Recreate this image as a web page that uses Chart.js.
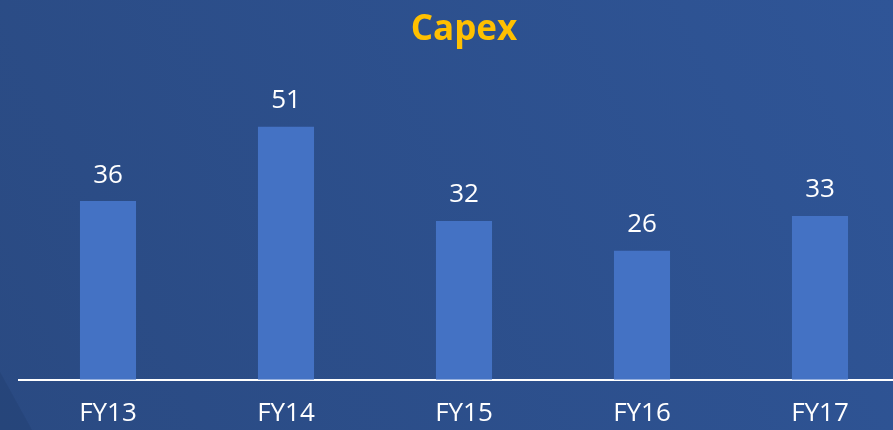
<!DOCTYPE html>
<html>
<head>
<meta charset="utf-8">
<script src="https://cdn.jsdelivr.net/npm/chart.js@4.4.0/dist/chart.umd.min.js"></script>
<style>
html,body{margin:0;padding:0;overflow:hidden;background:#2d5190;}
#wrap{position:relative;width:920px;height:449px;}
</style>
</head>
<body>
<div id="wrap"><canvas id="c" width="920" height="449"></canvas></div>
<script>
const categories = ["FY13", "FY14", "FY15", "FY16", "FY17"];
const capex = [36, 51, 32, 26, 33];
const chartTitle = "Capex";

const bgPlugin = {
  id: 'bg',
  beforeDraw(chart) {
    const ctx = chart.ctx, w = 893, h = 430;
    ctx.save();
    const g = ctx.createLinearGradient(w, 0, 0, h);
    g.addColorStop(0, '#2f5597');
    g.addColorStop(1, '#2a4a82');
    ctx.fillStyle = g;
    ctx.fillRect(0, 0, chart.width, chart.height);
    ctx.fillStyle = 'rgba(20,40,80,0.15)';
    ctx.beginPath();
    ctx.moveTo(0, 372);
    ctx.lineTo(32, 430);
    ctx.lineTo(0, 430);
    ctx.closePath();
    ctx.fill();
    ctx.restore();
  }
};

const valueLabels = {
  id: 'valueLabels',
  afterDatasetsDraw(chart) {
    const ctx = chart.ctx;
    const meta = chart.getDatasetMeta(0);
    ctx.save();
    ctx.fillStyle = '#ffffff';
    ctx.font = '26px "Open Sans"';
    ctx.textAlign = 'center';
    ctx.textBaseline = 'middle';
    meta.data.forEach((bar, i) => {
      ctx.fillText(String(capex[i]), bar.x, bar.y - 26);
    });
    ctx.restore();
  }
};

new Chart(document.getElementById('c'), {
  type: 'bar',
  data: {
    labels: categories,
    datasets: [{
      data: capex,
      backgroundColor: '#4472c4',
      borderWidth: 0,
      barPercentage: 0.315,
      categoryPercentage: 1
    }]
  },
  options: {
    responsive: false,
    animation: false,
    events: [],
    layout: { padding: { left: 19, right: 11, top: 0, bottom: 2 } },
    plugins: {
      legend: { display: false },
      tooltip: { enabled: false },
      title: {
        display: true,
        text: chartTitle,
        color: '#ffc000',
        font: { family: '"Open Sans"', size: 35, weight: 'bold' },
        padding: { top: 9, bottom: 31 }
      }
    },
    scales: {
      x: {
        grid: { display: false, drawTicks: false },
        border: { display: true, color: '#ffffff', width: 2 },
        ticks: { color: '#ffffff', font: { family: '"Open Sans"', size: 26 }, padding: 18 }
      },
      y: {
        display: false,
        min: 0,
        max: 60
      }
    }
  },
  plugins: [bgPlugin, valueLabels]
});
</script>
</body>
</html>
